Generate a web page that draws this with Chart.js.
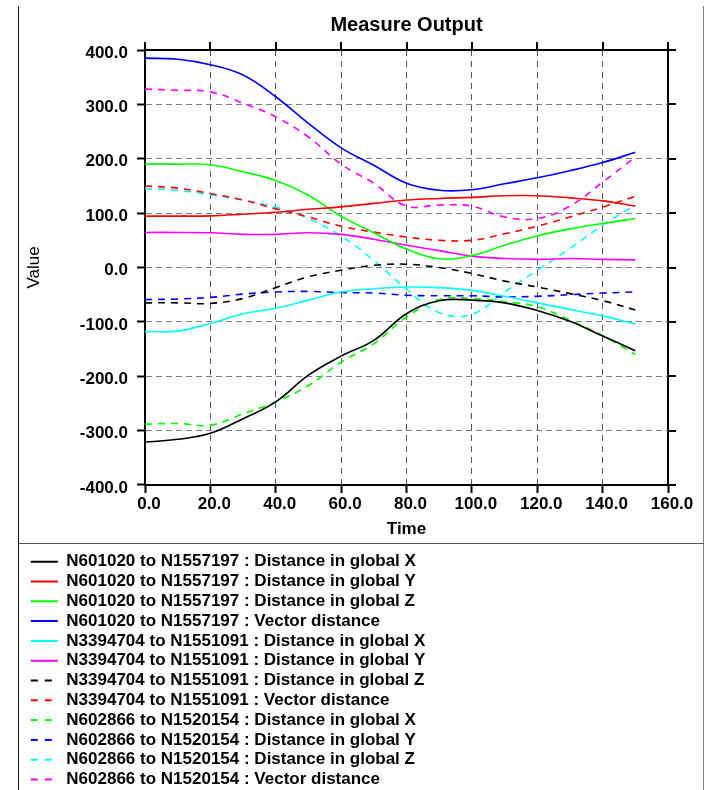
<!DOCTYPE html>
<html>
<head>
<meta charset="utf-8">
<title>Measure Output</title>
<script src="https://cdn.jsdelivr.net/npm/chart.js@4.4.0/dist/chart.umd.min.js"></script>
<style>
    html, body { margin: 0; padding: 0; background: #fff; overflow: hidden; }
    #wrap { position: relative; width: 706px; height: 790px; overflow: hidden; }
    #chart { position: absolute; left: 0; top: 0; }
    .frame { position: absolute; pointer-events: none; }
    #frameLeft { left: 18px; top: 6px; width: 1px; height: 784px; background: #111; }
    #frameRight { left: 703px; top: 6px; width: 1px; height: 784px; background: #808080; }
    #frameSep { left: 18px; top: 543px; width: 686px; height: 1px; background: #555; }
</style>
</head>
<body>
<div id="wrap">
    <canvas id="chart" width="706" height="798"></canvas>
    <div class="frame" id="frameLeft"></div>
    <div class="frame" id="frameRight"></div>
    <div class="frame" id="frameSep"></div>
</div>
<script>
// Time axis (every 10 units)
const times = [0, 10, 20, 30, 40, 50, 60, 70, 80, 90, 100, 110, 120, 130, 140, 150];

// N601020 to N1557197
const n601DistX = [-321, -316, -305, -278, -247, -198, -163, -134, -85, -61, -60, -65, -79, -99, -126, -153];
const n601DistY = [94.5, 94.5, 95, 98, 101.5, 107, 111.5, 118, 124, 127, 129, 132, 132, 128, 122.5, 113];
const n601DistZ = [190, 190, 189, 176, 160, 133, 94, 64, 34, 16, 22, 41, 58, 71, 81, 90];
const n601Vector = [385, 383, 373, 354, 314, 265, 220, 188, 155, 142, 143, 154, 165, 178, 193, 212];

// N3394704 to N1551091
const n339DistX = [-118, -117, -103, -85, -75, -60, -45, -39, -36, -37, -42, -53, -65, -77, -89, -104];
const n339DistY = [64.5, 64.5, 64, 61, 61, 64, 61, 52, 41, 31, 21, 16.5, 15, 16.5, 15, 14];
const n339DistZ = [-65, -65, -66, -57, -37, -17, -5, 4, 6, 0, -11, -25, -36, -48, -61, -78];
const n339Vector = [150, 146, 136, 124, 108, 93, 76, 65, 56, 50, 50, 62, 76, 93, 111, 131];

// N602866 to N1520154
const n602DistX = [-288, -287, -290, -269, -247, -217, -174, -140, -91, -59, -57, -63, -72, -97, -125, -160];
const n602DistY = [-59, -58, -55, -49, -45, -44, -46, -47, -51, -52, -52, -54, -53, -50, -47, -45];
const n602DistZ = [145, 142, 134, 124, 111, 90, 58, 13, -40, -83, -86, -45, -5, 35, 78, 115];
const n602Vector = [328, 326, 323, 302, 277, 240, 190, 155, 113, 115, 113, 93, 90, 113, 157, 203];

// Axis ticks
const xTicks = [0, 20, 40, 60, 80, 100, 120, 140, 160];
const yTicks = [-400, -300, -200, -100, 0, 100, 200, 300, 400];

const seriesNames = [
    'N601020 to N1557197 : Distance in global X',
    'N601020 to N1557197 : Distance in global Y',
    'N601020 to N1557197 : Distance in global Z',
    'N601020 to N1557197 : Vector distance',
    'N3394704 to N1551091 : Distance in global X',
    'N3394704 to N1551091 : Distance in global Y',
    'N3394704 to N1551091 : Distance in global Z',
    'N3394704 to N1551091 : Vector distance',
    'N602866 to N1520154 : Distance in global X',
    'N602866 to N1520154 : Distance in global Y',
    'N602866 to N1520154 : Distance in global Z',
    'N602866 to N1520154 : Vector distance'
];
const seriesValues = [
    n601DistX, n601DistY, n601DistZ, n601Vector,
    n339DistX, n339DistY, n339DistZ, n339Vector,
    n602DistX, n602DistY, n602DistZ, n602Vector
];
const seriesColors = [
    '#000000', '#ff0000', '#00ff00', '#0000ff',
    '#00ffff', '#ff00ff', '#000000', '#ff0000',
    '#00ff00', '#0000ff', '#00ffff', '#ff00ff'
];
const seriesDashed = [false, false, false, false, false, false, true, true, true, true, true, true];

const fontFamily = "'Liberation Sans', Arial, sans-serif";

// Top and right border of the plot box, with outward ticks
const boxFrame = {
    id: 'boxFrame',
    afterDraw(chart) {
        const ctx = chart.ctx;
        const area = chart.chartArea;
        const xs = chart.scales.x;
        const ys = chart.scales.y;
        ctx.save();
        ctx.strokeStyle = '#000';
        ctx.lineWidth = 2;
        ctx.beginPath();
        ctx.moveTo(area.left, area.top);
        ctx.lineTo(area.right, area.top);
        ctx.moveTo(area.right, area.top);
        ctx.lineTo(area.right, area.bottom);
        xs.ticks.forEach(t => {
            const px = Math.round(xs.getPixelForValue(t.value));
            ctx.moveTo(px, area.top);
            ctx.lineTo(px, area.top - 8);
        });
        ys.ticks.forEach(t => {
            const py = Math.round(ys.getPixelForValue(t.value));
            ctx.moveTo(area.right, py);
            ctx.lineTo(area.right + 8, py);
        });
        ctx.stroke();
        ctx.restore();
    }
};

document.addEventListener('DOMContentLoaded', function() {
    const datasets = seriesNames.map((name, i) => ({
        label: name,
        data: times.map((t, j) => ({ x: t, y: seriesValues[i][j] })),
        borderColor: seriesColors[i],
        backgroundColor: seriesColors[i],
        borderWidth: 1.6,
        borderDash: seriesDashed[i] ? [7, 6] : [],
        pointRadius: 0,
        tension: 0.4,
        fill: false
    }));

    const ctx = document.getElementById('chart').getContext('2d');
    new Chart(ctx, {
        type: 'line',
        data: { datasets: datasets },
        options: {
            responsive: false,
            animation: false,
            devicePixelRatio: 1,
            layout: { padding: { left: 28, right: 38, top: 0, bottom: 0 } },
            plugins: {
                title: {
                    display: true,
                    text: 'Measure Output',
                    fullSize: false,
                    color: '#000',
                    font: { family: fontFamily, size: 20, weight: 'bold' },
                    padding: { top: 13, bottom: 13 }
                },
                legend: {
                    position: 'bottom',
                    align: 'start',
                    labels: {
                        usePointStyle: true,
                        pointStyle: 'line',
                        pointStyleWidth: 27,
                        padding: 2.8,
                        color: '#000',
                        font: { family: fontFamily, size: 17, weight: 'bold' },
                        // line samples keep the dataset's dash pattern
                        generateLabels: function(chart) {
                            const items = Chart.defaults.plugins.legend.labels.generateLabels(chart);
                            items.forEach(item => {
                                const ds = chart.data.datasets[item.datasetIndex];
                                item.lineDash = ds.borderDash.length ? [7, 7] : [];
                                item.lineWidth = 2;
                                item.strokeStyle = ds.borderColor;
                            });
                            return items;
                        }
                    }
                },
                tooltip: { enabled: false }
            },
            scales: {
                x: {
                    type: 'linear',
                    min: 0,
                    max: 160,
                    afterBuildTicks: axis => { axis.ticks = xTicks.map(v => ({ value: v })); },
                    afterFit: axis => { axis.height = 65.4; },
                    grid: {
                        color: '#555',
                        lineWidth: 1,
                        tickLength: 8,
                        tickColor: '#000',
                        tickWidth: 2
                    },
                    border: { display: true, color: '#000', width: 2, dash: [6, 5] },
                    ticks: {
                        padding: 1,
                        labelOffset: 4,
                        color: '#000',
                        font: { family: fontFamily, size: 17, weight: 'bold' },
                        callback: v => Number(v).toFixed(1)
                    },
                    title: {
                        display: true,
                        text: 'Time',
                        color: '#000',
                        font: { family: fontFamily, size: 17, weight: 'bold' },
                        padding: { top: 0, bottom: 11.2 }
                    }
                },
                y: {
                    min: -400,
                    max: 400,
                    afterBuildTicks: axis => { axis.ticks = yTicks.map(v => ({ value: v })); },
                    afterFit: axis => { axis.width = 117; },
                    grid: {
                        color: '#808080',
                        lineWidth: 1,
                        tickLength: 8,
                        tickColor: '#000',
                        tickWidth: 2
                    },
                    border: { display: true, color: '#000', width: 2, dash: [6, 4] },
                    ticks: {
                        padding: 9,
                        labelOffset: 3,
                        color: '#000',
                        font: { family: fontFamily, size: 17, weight: 'bold' },
                        callback: v => Number(v).toFixed(1)
                    },
                    title: {
                        display: true,
                        text: 'Value',
                        color: '#000',
                        font: { family: fontFamily, size: 17, weight: 'normal', lineHeight: 1.2 },
                        padding: { top: -4, bottom: 0 }
                    }
                }
            }
        },
        plugins: [boxFrame]
    });
});
</script>
</body>
</html>
